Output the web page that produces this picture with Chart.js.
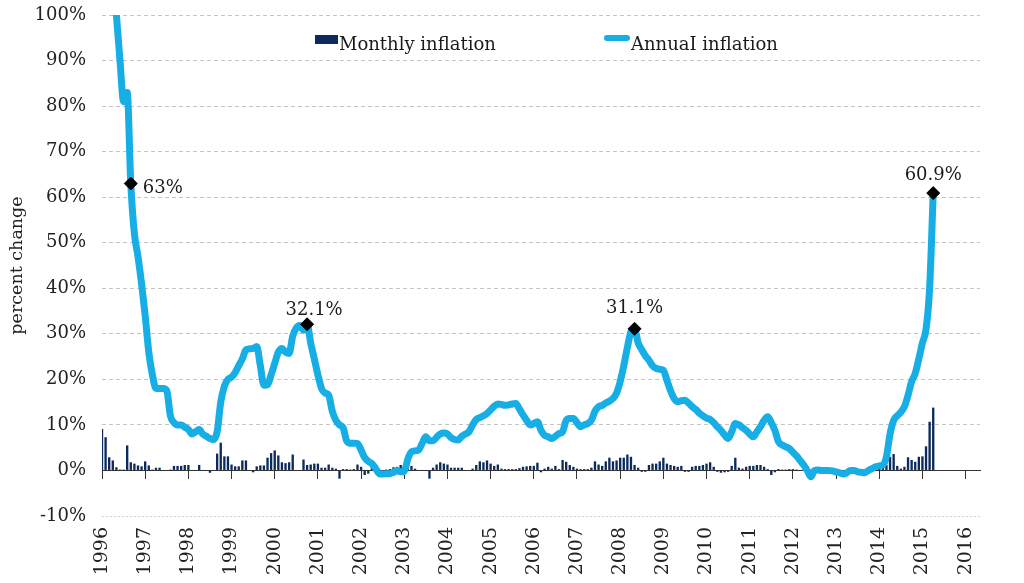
<!DOCTYPE html>
<html>
<head>
<meta charset="utf-8">
<script src="https://cdn.jsdelivr.net/npm/chart.js@4.4.1/dist/chart.umd.min.js"></script>
<style>
html, body { margin: 0; padding: 0; background: #fff; }
#wrap { width: 1024px; height: 583px; }
</style>
</head>
<body>
<div id="wrap"><canvas id="chart"></canvas></div>
<script>
// year ticks on the bottom axis
var years = ["1996","1997","1998","1999","2000","2001","2002","2003","2004","2005","2006",
             "2007","2008","2009","2010","2011","2012","2013","2014","2015","2016"];

// annual inflation, % (one value per month, Jan 1996 - Apr 2015)
var annual = [
  150, 135, 122, 110, 100, 90, 81, 83, 63, 52, 47, 41,
  34, 26, 21, 18, 18, 18, 17.5, 12, 10.5, 10, 10, 9.5,
  9, 8, 8.5, 9, 8, 7.5, 7, 6.8, 8.5, 15, 18.5, 20,
  20.5, 21.5, 23, 24.5, 26.5, 26.7, 26.8, 27.2, 23, 18.7, 18.8, 21,
  23.5, 26, 26.8, 26, 25.7, 29.5, 31.3, 31.8, 30.8, 32.1, 28, 24.5,
  21, 18, 17, 16.5, 13, 11, 10, 9.4, 6.5, 6, 6, 5.9,
  4.5, 2.8, 2, 1.5, 0.5, -0.7, -0.8, -0.7, -0.7, -0.4, 0, -0.3,
  -0.2, 2.5, 4.1, 4.3, 4.5, 6, 7.4, 6.5, 6.5, 7.3, 8, 8.2,
  8, 7.2, 6.8, 6.7, 7.5, 8, 8.5, 10, 11.2, 11.6, 12, 12.5,
  13.3, 14.1, 14.6, 14.5, 14.3, 14.4, 14.6, 14.7, 13.5, 12.2, 11, 10,
  10.3, 10.7, 8.8, 7.7, 7.4, 7, 7.5, 8.1, 8.5, 11, 11.4, 11.4,
  10.5, 9.6, 10, 10.3, 11, 13, 14, 14.3, 14.8, 15.2, 15.8, 17,
  19.5, 23, 27, 30.5, 31.1, 28, 26.5, 25.2, 24.2, 23, 22.4, 22.2,
  22, 19.8, 17.5, 15.8, 15.1, 15.3, 15.4, 14.8, 14, 13.4, 12.6, 12,
  11.5, 11.2, 10.5, 9.6, 8.8, 7.8, 7, 8.5, 10.3, 10, 9.4, 8.8,
  8, 7.4, 8.5, 9.6, 11, 11.8, 10.5, 8.8, 6.3, 5.6, 5.2, 4.8,
  4, 3.2, 2.2, 1.2, 0, -1.4, 0, 0.1, 0, 0, 0, -0.1,
  -0.3, -0.5, -0.8, -0.5, 0, 0, -0.3, -0.4, -0.5, 0, 0.4, 0.8,
  1, 1.2, 3, 8, 11, 12, 12.8, 14, 16.5, 19.5, 21.3, 24.5,
  28, 31, 40, 60.9
];

// monthly inflation, %
var monthly = [
  9.1, 7.3, 2.9, 2.2, 0.7, 0.2, 0.2, 5.5, 1.8, 1.5, 1.1, 0.9,
  2.0, 1.1, 0.2, 0.6, 0.6, 0.1, 0.1, 0.2, 1.0, 1.0, 1.0, 1.2,
  1.2, 0.1, 0.1, 1.2, 0.1, 0.1, -0.5, 0.1, 3.7, 6.1, 3.1, 3.1,
  1.3, 0.9, 0.9, 2.2, 2.2, 0.1, -0.4, 0.9, 1.1, 1.1, 2.8, 3.8,
  4.4, 3.3, 1.8, 1.6, 1.8, 3.5, 0.1, 0.1, 2.4, 1.2, 1.3, 1.5,
  1.5, 0.6, 0.6, 1.3, 0.6, 0.4, -1.8, 0.3, 0.3, 0.2, 0.3, 1.3,
  0.8, -1.0, -0.7, 0.8, 1.2, 0.3, -0.3, 0.2, 0.3, 0.7, 0.8, 1.2,
  0.3, 0.8, 1.0, 0.4, 0.1, 0.1, 0.1, -1.8, 0.6, 1.3, 1.8, 1.5,
  1.3, 0.6, 0.6, 0.6, 0.6, 0.1, -0.1, 0.4, 1.2, 2.0, 1.8, 2.2,
  1.5, 1.0, 1.3, 0.4, 0.3, 0.3, 0.3, 0.3, 0.5, 0.8, 0.9, 1.0,
  1.0, 1.7, -0.4, 0.4, 0.8, 0.4, 1.0, 0.3, 2.3, 1.9, 1.2, 0.8,
  0.4, 0.3, 0.3, 0.3, 0.6, 2.0, 1.3, 1.0, 2.0, 2.8, 2.0, 2.2,
  2.8, 2.8, 3.5, 3.0, 1.2, 0.6, -0.3, -0.3, 1.2, 1.5, 1.5, 2.0,
  2.8, 1.5, 1.2, 1.0, 0.8, 1.0, -0.3, -0.3, 0.8, 1.0, 1.0, 1.2,
  1.5, 1.8, 0.8, -0.3, -0.5, -0.4, -0.3, 1.0, 2.8, 0.6, 0.4, 0.8,
  1.0, 1.0, 1.2, 1.2, 0.8, 0.3, -1.0, -0.4, 0.3, 0.2, 0.2, 0.3,
  0.3, 0.2, 0.1, 0.2, 0.1, 0.1, 0.2, 0.1, 0.0, 0.1, 0.1, 0.2,
  0.1, 0.0, -0.2, 0.1, 0.2, 0.1, 0.0, 0.1, 0.2, 0.3, 0.4, 0.6,
  0.8, 0.9, 1.2, 3.0, 3.6, 1.0, 0.4, 0.8, 2.9, 2.3, 1.9, 3.0,
  3.1, 5.3, 10.7, 13.8
];

// annotated peaks: month index and text
var markIdx = [8, 57, 148, 231];
var markText = ["63%", "32.1%", "31.1%", "60.9%"];
var markPos = [
  { align: "left", dx: 12, dy: 9 },
  { align: "center", dx: 7, dy: -9 },
  { align: "center", dx: 0, dy: -16 },
  { align: "center", dx: 0, dy: -13 }
];

var navy = "#0c2a5c";
var blue = "#17aee6";
var serif = '"DejaVu Serif", "Liberation Serif", serif';

// month categories, Jan 1996 .. May 2016
var labels = [];
for (var i = 0; i < 245; i++) {
  labels.push(years[Math.floor(i / 12)] + "-" + String(i % 12 + 1).padStart(2, "0"));
}

var markData = annual.map(function (v, i) {
  return markIdx.indexOf(i) >= 0 ? v : null;
});

var annotPlugin = {
  id: "annot",
  afterDatasetsDraw: function (chart) {
    var meta = chart.getDatasetMeta(0);
    var c = chart.ctx;
    c.save();
    c.font = "18px " + serif;
    c.fillStyle = "#1a1a1a";
    c.textBaseline = "alphabetic";
    markIdx.forEach(function (idx, k) {
      var pt = meta.data[idx];
      c.textAlign = markPos[k].align;
      c.fillText(markText[k], pt.x + markPos[k].dx, pt.y + markPos[k].dy);
    });
    c.restore();
  }
};

var legendPlugin = {
  id: "inlineLegend",
  afterDraw: function (chart) {
    var c = chart.ctx;
    var ds = chart.data.datasets;
    c.save();
    c.font = "18px " + serif;
    c.textAlign = "left";
    c.textBaseline = "alphabetic";
    c.fillStyle = navy;
    c.fillRect(315, 35, 23, 9);
    c.fillStyle = "#1a1a1a";
    c.fillText(ds[2].label, 339, 50);
    c.strokeStyle = blue;
    c.lineWidth = 6;
    c.lineCap = "round";
    c.beginPath();
    c.moveTo(607, 38);
    c.lineTo(627, 38);
    c.stroke();
    c.fillText(ds[1].label, 631, 50);
    c.restore();
  }
};

const ctx = document.getElementById("chart");

new Chart(ctx, {
  type: "bar",
  data: {
    labels: labels,
    datasets: [{
      type: "line",
      label: "peaks",
      data: markData,
      showLine: false,
      pointStyle: "rectRot",
      pointRadius: 6.5,
      pointBackgroundColor: "#000",
      pointBorderColor: "#000",
      order: 0
    }, {
      type: "line",
      label: "AnnuaI inflation",
      data: annual,
      borderColor: blue,
      borderWidth: 7,
      pointRadius: 0,
      cubicInterpolationMode: "monotone",
      borderJoinStyle: "round",
      borderCapStyle: "round",
      clip: 0,
      order: 1
    }, {
      type: "bar",
      label: "Monthly inflation",
      data: monthly,
      backgroundColor: navy,
      barPercentage: 0.65,
      categoryPercentage: 1,
      order: 2
    }]
  },
  options: {
    responsive: true,
    maintainAspectRatio: false,
    animation: false,
    layout: { padding: { top: 15, right: 44, bottom: 0, left: 0 } },
    plugins: {
      legend: { display: false },
      tooltip: { enabled: false }
    },
    scales: {
      x: {
        type: "category",
        position: { y: 0 },
        offset: false,
        grid: {
          offset: false,
          drawOnChartArea: false,
          drawTicks: true,
          tickLength: 8,
          color: function (c) { return c.index % 12 === 0 ? "#333" : "rgba(0,0,0,0)"; }
        },
        border: { display: true, color: "#333", width: 1 },
        ticks: { display: false }
      },
      x2: {
        type: "category",
        position: "bottom",
        offset: false,
        grid: { display: false, drawTicks: false },
        border: { display: false },
        ticks: {
          autoSkip: false,
          minRotation: 90,
          maxRotation: 90,
          padding: 11,
          color: "#222",
          font: { family: serif, size: 19 },
          callback: function (val, i) {
            return i % 12 === 0 ? years[i / 12] : null;
          }
        },
        afterFit: function (s) { s.height = 67; }
      },
      y: {
        min: -10,
        max: 100,
        ticks: {
          stepSize: 10,
          padding: 0,
          color: "#222",
          font: { family: serif, size: 18 },
          callback: function (v) { return v + "%"; }
        },
        grid: {
          drawTicks: true,
          tickLength: 16,
          tickColor: "rgba(0,0,0,0)",
          color: function (c) {
            if (!c.tick) return "#c4c4c4";
            if (c.tick.value === 0) return "rgba(0,0,0,0)";
            if (c.tick.value === -10) return "#d4d4d4";
            return "#c4c4c4";
          }
        },
        border: {
          display: false,
          dash: function (c) {
            return c.tick && c.tick.value === -10 ? [2, 2] : [4, 3];
          }
        },
        title: {
          display: true,
          text: "percent change",
          color: "#222",
          font: { family: serif, size: 17.5 },
          padding: { top: 7, bottom: 0 }
        },
        afterFit: function (s) { s.width = 102; }
      }
    }
  },
  plugins: [annotPlugin, legendPlugin]
});
</script>
</body>
</html>
